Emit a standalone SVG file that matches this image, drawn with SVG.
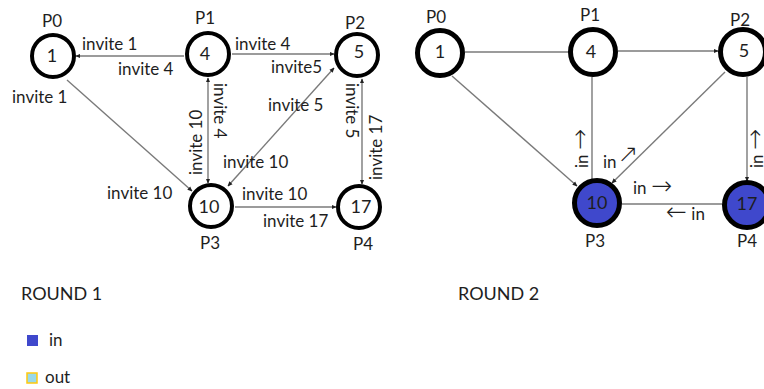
<svg xmlns="http://www.w3.org/2000/svg" width="764" height="389" viewBox="0 0 764 389">
<defs>
<marker id="ah" viewBox="0 0 8 8" refX="7" refY="4" markerWidth="5" markerHeight="5" markerUnits="userSpaceOnUse" orient="auto-start-reverse">
<path d="M0,0.5 L8,4 L0,7.5 z" fill="#222"/>
</marker>
</defs>
<style>
.t{font-family:Lato,"Liberation Sans",sans-serif;font-size:17px;fill:#1e1e1e}
.n{font-family:Lato,"Liberation Sans",sans-serif;font-size:18px;fill:#1e1e1e;text-anchor:middle}
.a{font-family:"DejaVu Sans",sans-serif;font-size:25px;font-weight:200}
.a2{font-family:"DejaVu Sans",sans-serif;font-size:25px;font-weight:200}
.c1{fill:#fff;stroke:#000;stroke-width:4}
.c2{fill:#fff;stroke:#000;stroke-width:5}
.in{fill:#3f48cc}
.e{stroke:#7a7a7a;stroke-width:1.4;fill:none}
</style>
<rect width="764" height="389" fill="#fff"/>

<g id="connectors">
<line class="e" x1="184" y1="56" x2="76" y2="56" marker-end="url(#ah)"/>
<line class="e" x1="232" y1="54" x2="334" y2="54" marker-end="url(#ah)"/>
<line class="e" x1="208" y1="78" x2="208" y2="183" marker-start="url(#ah)" marker-end="url(#ah)"/>
<line class="e" x1="362" y1="79" x2="362" y2="184" marker-start="url(#ah)" marker-end="url(#ah)"/>
<line class="e" x1="334" y1="68" x2="228" y2="186" marker-start="url(#ah)" marker-end="url(#ah)"/>
<line class="e" x1="67" y1="80" x2="192" y2="191" marker-end="url(#ah)"/>
<line class="e" x1="235" y1="207" x2="336" y2="207" marker-end="url(#ah)"/>

<line class="e" x1="465" y1="52" x2="568" y2="52"/>
<line class="e" x1="618" y1="51" x2="718" y2="51" marker-end="url(#ah)"/>
<line class="e" x1="592" y1="77" x2="592" y2="179"/>
<line class="e" x1="747" y1="77" x2="747" y2="181" marker-end="url(#ah)"/>
<line class="e" x1="725" y1="72" x2="612" y2="183" marker-end="url(#ah)"/>
<line class="e" x1="452" y1="76" x2="577" y2="186" marker-end="url(#ah)"/>
<line class="e" x1="622" y1="204" x2="722" y2="204"/>
</g>

<g id="r1-labels">
<text class="t" x="82" y="50">invite 1</text>
<text class="t" x="118" y="75">invite 4</text>
<text class="t" x="12" y="103">invite 1</text>
<text class="t" x="235" y="50">invite 4</text>
<text class="t" x="271" y="73">invite5</text>
<text class="t" x="268" y="111">invite 5</text>
<text class="t" x="223" y="168">invite 10</text>
<text class="t" x="107" y="199">invite 10</text>
<text class="t" x="242" y="200">invite 10</text>
<text class="t" x="263" y="227">invite 17</text>
<text class="t" transform="translate(214,83) rotate(90)">invite 4</text>
<text class="t" transform="translate(202,175) rotate(-90)">invite 10</text>
<text class="t" transform="translate(346,83) rotate(90)">invite 5</text>
<text class="t" transform="translate(382,180) rotate(-90)">invite 17</text>
</g>

<g id="r1-P0"><circle class="c1" cx="53" cy="56" r="21"/><text class="n" x="52" y="62">1</text><text class="t" x="42" y="27">P0</text></g>
<g id="r1-P1"><circle class="c1" cx="208" cy="54" r="21"/><text class="n" x="205" y="60">4</text><text class="t" x="195" y="24">P1</text></g>
<g id="r1-P2"><circle class="c1" cx="357" cy="55" r="21"/><text class="n" x="359" y="58">5</text><text class="t" x="345" y="29">P2</text></g>
<g id="r1-P3"><circle class="c1" cx="211" cy="206" r="21"/><text class="n" x="209" y="213">10</text><text class="t" x="200" y="249">P3</text></g>
<g id="r1-P4"><circle class="c1" cx="359" cy="207" r="21"/><text class="n" x="361" y="213">17</text><text class="t" x="353" y="250">P4</text></g>

<g id="r2-labels">
<text class="t" transform="translate(588,168) rotate(-90)">in <tspan class="a">→</tspan></text>
<text class="t" transform="translate(763,168) rotate(-90)">in <tspan class="a">→</tspan></text>
<text class="t" x="603" y="168">in<tspan class="a2" dx="1" dy="-6">↗</tspan></text>
<text class="t" x="633" y="194">in <tspan class="a">→</tspan></text>
<text class="t" x="666" y="220"><tspan class="a">←</tspan> in</text>
</g>

<g id="r2-P0"><circle class="c2" cx="440" cy="53" r="22.5"/><text class="n" x="440" y="58">1</text><text class="t" x="426" y="23">P0</text></g>
<g id="r2-P1"><circle class="c2" cx="593" cy="52" r="22.5"/><text class="n" x="591" y="58">4</text><text class="t" x="580" y="21">P1</text></g>
<g id="r2-P2"><circle class="c2" cx="743" cy="52" r="22.5"/><text class="n" x="744" y="57">5</text><text class="t" x="730" y="26">P2</text></g>
<g id="r2-P3"><circle class="c2 in" cx="597" cy="203" r="22.5"/><text class="n" x="597" y="209">10</text><text class="t" x="585" y="247">P3</text></g>
<g id="r2-P4"><circle class="c2 in" cx="747" cy="205" r="22.5"/><text class="n" x="747" y="210">17</text><text class="t" x="737" y="247">P4</text></g>

<g id="legend">
<text class="t" x="21" y="300" style="font-size:18px">ROUND 1</text>
<text class="t" x="458" y="300" style="font-size:18px">ROUND 2</text>
<rect x="27" y="335" width="11" height="11" fill="#3f48cc"/>
<text class="t" x="49" y="346">in</text>
<rect x="27" y="373" width="10" height="10" fill="#99d9ea" stroke="#ffc90e" stroke-width="1.5"/>
<text class="t" x="45" y="383">out</text>
</g>
</svg>
